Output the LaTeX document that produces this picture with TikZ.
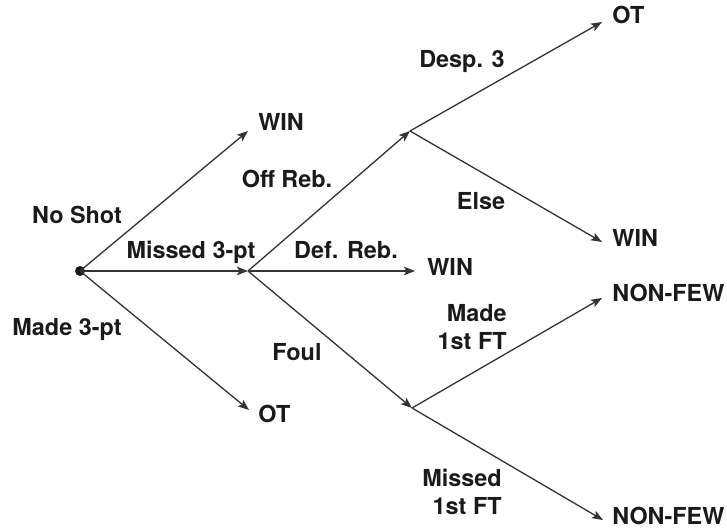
\documentclass[tikz,border=0pt]{standalone}
\usepackage{fontspec}
\setmainfont{TeX Gyre Heros}
\usetikzlibrary{arrows.meta}
\definecolor{linegray}{HTML}{333333}
\definecolor{txt}{HTML}{1A1A1A}
\tikzset{
  branch/.style={draw=linegray, line width=0.65pt, -{Stealth[length=5.5pt,width=4.2pt,inset=1.2pt]}},
  lbl/.style={inner sep=0pt, text=txt, font=\fontsize{11.7}{14}\selectfont\bfseries},
}
\begin{document}
\begin{tikzpicture}[x=0.5pt,y=-0.5pt]
\useasboundingbox (0,0) rectangle (727,529);
% branch points
\coordinate (R) at (80,271);
\coordinate (A) at (248,271);
\coordinate (B) at (410,131);
\coordinate (C) at (412,408);
% arrow tips at outcomes
\coordinate (tWinL) at (248,131);
\coordinate (tOtL) at (249,410);
\coordinate (tWinM) at (415,271);
\coordinate (tOtT) at (602,22);
\coordinate (tWinR) at (602,242);
\coordinate (tNfU) at (602,298);
\coordinate (tNfD) at (603,520);

\fill[txt] (R) circle (5);

\draw[branch] (R) -- (tWinL);
\draw[branch] (R) -- (A);
\draw[branch] (R) -- (tOtL);
\draw[branch] (A) -- (B);
\draw[branch] (A) -- (tWinM);
\draw[branch] (A) -- (C);
\draw[branch] (B) -- (tOtT);
\draw[branch] (B) -- (tWinR);
\draw[branch] (C) -- (tNfU);
\draw[branch] (C) -- (tNfD);

% edge labels
\node[lbl, anchor=base] (lNoShot) at (77,223) {No Shot};
\node[lbl, anchor=base] (lMissed3) at (191,258) {Missed 3-pt};
\node[lbl, anchor=base] (lMade3) at (67,335) {Made 3-pt};
\node[lbl, anchor=base] (lOff) at (287,188) {Off Reb.};
\node[lbl, anchor=base] (lDef) at (346,258) {Def. Reb.};
\node[lbl, anchor=base] (lFoul) at (297,360) {Foul};
\node[lbl, anchor=base] (lDesp) at (462,68) {Desp. 3};
\node[lbl, anchor=base] (lElse) at (481,210) {Else};
\node[lbl, anchor=east, align=right] (lMadeFT) at (507,327) {Made\\1st FT};
\node[lbl, anchor=east, align=right] (lMissFT) at (502,492) {Missed\\1st FT};

% outcomes
\node[lbl, anchor=base west] (oWinL) at (258,131) {WIN};
\node[lbl, anchor=base west] (oOtL) at (258,422) {OT};
\node[lbl, anchor=base west] (oWinM) at (427,275) {WIN};
\node[lbl, anchor=base west] (oOtT) at (612,24) {OT};
\node[lbl, anchor=base west] (oWinR) at (612,246) {WIN};
\node[lbl, anchor=base west] (oNfU) at (612,301) {NON-FEW};
\node[lbl, anchor=base west] (oNfD) at (612,524) {NON-FEW};
\end{tikzpicture}
\end{document}
